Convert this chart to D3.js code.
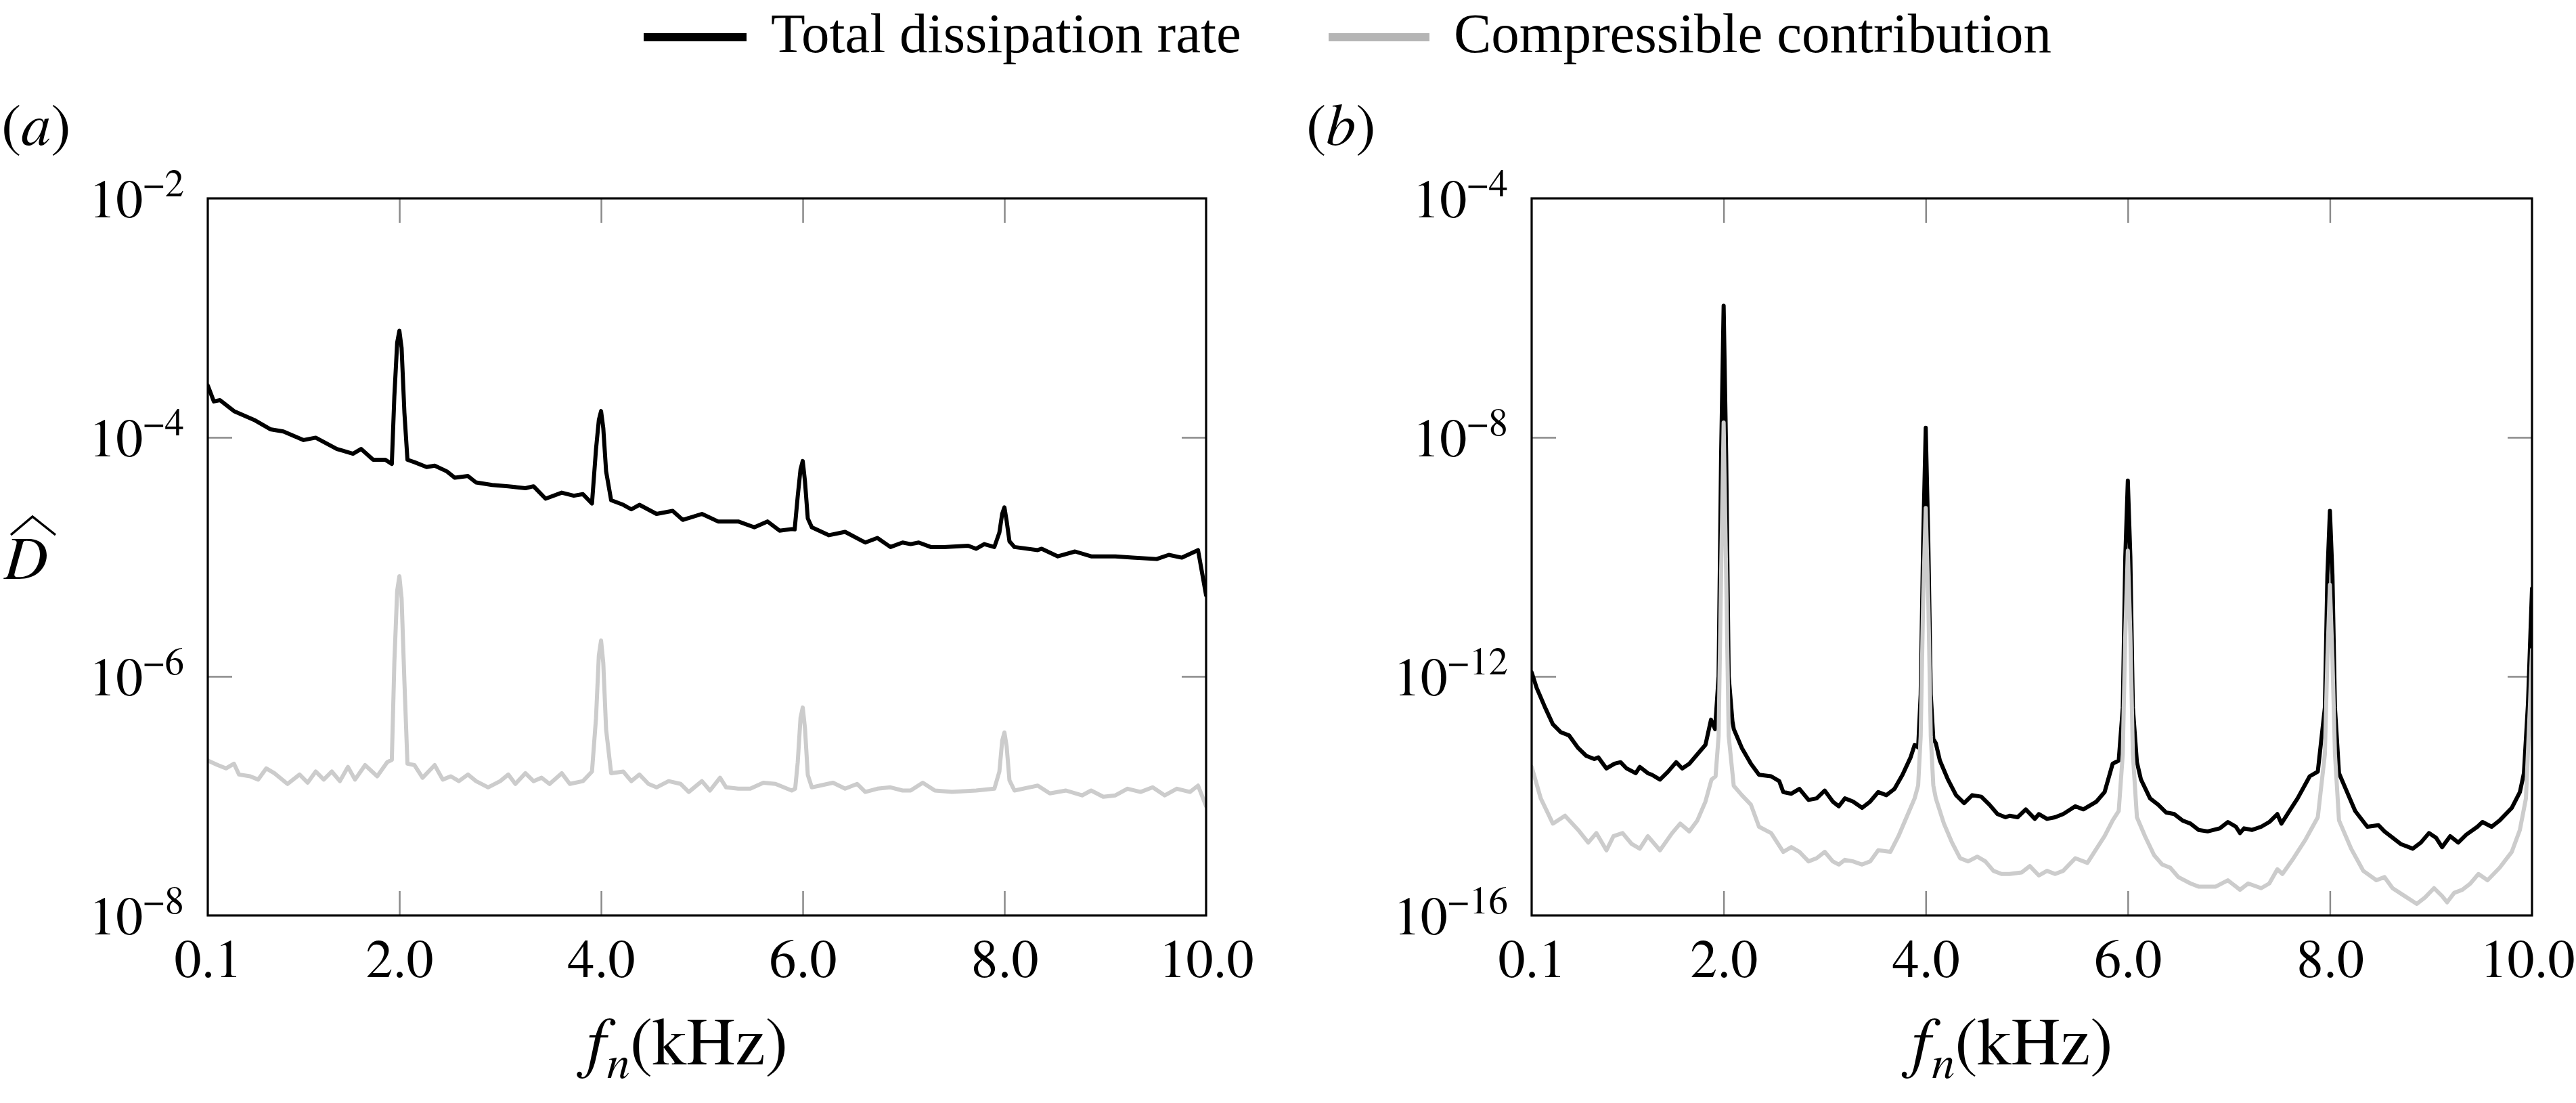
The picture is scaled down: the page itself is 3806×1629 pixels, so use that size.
<!DOCTYPE html>
<html>
<head>
<meta charset="utf-8">
<script src="https://cdn.jsdelivr.net/npm/d3@7"></script>
<style>
  html, body { margin: 0; padding: 0; background: #ffffff; }
  svg { display: block; }
</style>
</head>
<body>
<svg id="chart" width="3806" height="1629"></svg>
<script>
// ---------------- DATA ----------------
const seriesNames = ["Total dissipation rate", "Compressible contribution"];
const seriesColors = ["#000000", "#cccccc"];
const legendColors = ["#000000", "#b5b5b5"];
const panelLabels = ["a", "b"];
const xTickValues = [0.1, 2.0, 4.0, 6.0, 8.0, 10.0];
const xTickLabels = ["0.1", "2.0", "4.0", "6.0", "8.0", "10.0"];
const yTickValuesA = [1e-2, 1e-4, 1e-6, 1e-8];
const yTickExpA = ["\u22122", "\u22124", "\u22126", "\u22128"];
const yTickValuesB = [1e-4, 1e-8, 1e-12, 1e-16];
const yTickExpB = ["\u22124", "\u22128", "\u221212", "\u221216"];

// panel (a): total dissipation rate  [f (kHz), D]
const totalA = [[0.10,2.72e-4],[0.16,2.0e-4],[0.22,2.05e-4],[0.36,1.66e-4],[0.56,1.40e-4],[0.72,1.17e-4],[0.85,1.12e-4],[1.05,9.5e-5],[1.17,9.95e-5],[1.38,8.0e-5],[1.54,7.3e-5],[1.62,8.0e-5],[1.74,6.5e-5],[1.86,6.5e-5],[1.925,6.0e-5],[1.95,2.2e-4],[1.978,6.2e-4],[2.0,7.8e-4],[2.022,5.6e-4],[2.05,1.6e-4],[2.08,6.5e-5],[2.15,6.2e-5],[2.27,5.65e-5],[2.35,5.8e-5],[2.47,5.2e-5],[2.55,4.6e-5],[2.68,4.75e-5],[2.76,4.2e-5],[2.92,4.0e-5],[3.08,3.9e-5],[3.25,3.76e-5],[3.33,3.9e-5],[3.45,3.07e-5],[3.61,3.45e-5],[3.73,3.25e-5],[3.82,3.35e-5],[3.91,2.8e-5],[3.95,8e-5],[3.978,1.4e-4],[4.0,1.66e-4],[4.022,1.2e-4],[4.05,5.2e-5],[4.1,2.98e-5],[4.22,2.73e-5],[4.30,2.5e-5],[4.38,2.73e-5],[4.55,2.29e-5],[4.71,2.43e-5],[4.81,2.04e-5],[5.00,2.29e-5],[5.16,1.98e-5],[5.36,1.98e-5],[5.52,1.77e-5],[5.65,1.98e-5],[5.77,1.66e-5],[5.89,1.71e-5],[5.92,1.7e-5],[5.95,3.2e-5],[5.978,5.4e-5],[6.0,6.35e-5],[6.022,4.3e-5],[6.05,2.1e-5],[6.09,1.77e-5],[6.26,1.52e-5],[6.42,1.62e-5],[6.62,1.32e-5],[6.74,1.44e-5],[6.87,1.21e-5],[6.99,1.32e-5],[7.07,1.28e-5],[7.15,1.32e-5],[7.27,1.21e-5],[7.40,1.21e-5],[7.64,1.24e-5],[7.72,1.17e-5],[7.80,1.28e-5],[7.90,1.21e-5],[7.95,1.6e-5],[7.978,2.3e-5],[8.0,2.6e-5],[8.022,2.0e-5],[8.05,1.35e-5],[8.1,1.21e-5],[8.33,1.14e-5],[8.37,1.17e-5],[8.53,1.01e-5],[8.70,1.11e-5],[8.86,1.01e-5],[9.10,1.01e-5],[9.27,9.86e-6],[9.51,9.6e-6],[9.63,1.04e-5],[9.76,9.86e-6],[9.92,1.14e-5],[10.0,4.77e-6]];

// panel (a): compressible contribution
const compA = [[0.10,1.98e-7],[0.20,1.81e-7],[0.28,1.70e-7],[0.36,1.86e-7],[0.41,1.51e-7],[0.52,1.46e-7],[0.60,1.37e-7],[0.68,1.70e-7],[0.76,1.55e-7],[0.89,1.26e-7],[1.01,1.51e-7],[1.09,1.29e-7],[1.17,1.60e-7],[1.25,1.37e-7],[1.33,1.60e-7],[1.41,1.33e-7],[1.49,1.75e-7],[1.56,1.37e-7],[1.66,1.81e-7],[1.78,1.46e-7],[1.88,1.92e-7],[1.925,2.0e-7],[1.95,1.3e-6],[1.978,5.2e-6],[2.0,6.9e-6],[2.022,4.5e-6],[2.05,9e-7],[2.08,1.86e-7],[2.15,1.81e-7],[2.23,1.42e-7],[2.35,1.81e-7],[2.43,1.37e-7],[2.51,1.46e-7],[2.59,1.33e-7],[2.68,1.51e-7],[2.76,1.33e-7],[2.88,1.18e-7],[3.00,1.33e-7],[3.08,1.51e-7],[3.15,1.26e-7],[3.25,1.55e-7],[3.33,1.33e-7],[3.41,1.42e-7],[3.49,1.26e-7],[3.61,1.55e-7],[3.69,1.26e-7],[3.82,1.33e-7],[3.91,1.60e-7],[3.95,4.5e-7],[3.978,1.5e-6],[4.0,2.0e-6],[4.022,1.3e-6],[4.05,3.6e-7],[4.10,1.55e-7],[4.22,1.60e-7],[4.30,1.33e-7],[4.38,1.51e-7],[4.47,1.26e-7],[4.55,1.18e-7],[4.67,1.33e-7],[4.79,1.26e-7],[4.87,1.08e-7],[5.00,1.33e-7],[5.08,1.11e-7],[5.18,1.42e-7],[5.24,1.18e-7],[5.36,1.15e-7],[5.48,1.15e-7],[5.61,1.29e-7],[5.73,1.26e-7],[5.89,1.11e-7],[5.925,1.15e-7],[5.95,1.9e-7],[5.978,4.5e-7],[6.0,5.5e-7],[6.022,3.7e-7],[6.05,1.5e-7],[6.09,1.18e-7],[6.17,1.22e-7],[6.30,1.29e-7],[6.42,1.15e-7],[6.54,1.26e-7],[6.62,1.08e-7],[6.74,1.15e-7],[6.87,1.18e-7],[6.99,1.11e-7],[7.07,1.11e-7],[7.19,1.29e-7],[7.31,1.11e-7],[7.48,1.08e-7],[7.72,1.11e-7],[7.90,1.15e-7],[7.95,1.6e-7],[7.978,2.9e-7],[8.0,3.4e-7],[8.022,2.6e-7],[8.05,1.35e-7],[8.10,1.11e-7],[8.33,1.22e-7],[8.45,1.05e-7],[8.61,1.11e-7],[8.77,1.01e-7],[8.86,1.11e-7],[8.98,9.84e-8],[9.10,1.01e-7],[9.22,1.15e-7],[9.35,1.08e-7],[9.47,1.18e-7],[9.59,1.01e-7],[9.71,1.15e-7],[9.84,1.08e-7],[9.92,1.22e-7],[10.0,8.2e-8]];

// panel (b): total dissipation rate
const totalB = [[0.10,1.17e-12],[0.15,6.4e-13],[0.23,3.1e-13],[0.31,1.58e-13],[0.39,1.16e-13],[0.47,1.03e-13],[0.56,6.35e-14],[0.64,4.69e-14],[0.72,4.15e-14],[0.76,4.41e-14],[0.84,2.88e-14],[0.92,3.46e-14],[0.98,3.67e-14],[1.04,2.88e-14],[1.13,2.40e-14],[1.17,3.06e-14],[1.25,2.40e-14],[1.29,2.26e-14],[1.37,1.88e-14],[1.45,2.55e-14],[1.53,3.67e-14],[1.59,2.88e-14],[1.66,3.46e-14],[1.74,4.98e-14],[1.82,7.16e-14],[1.875,1.89e-13],[1.915,1.31e-13],[1.95,1e-12],[1.975,5e-9],[2.0,1.6e-6],[2.025,5e-9],[2.05,1e-12],[2.087,1.78e-13],[2.10,1.32e-13],[2.18,6.35e-14],[2.27,3.46e-14],[2.35,2.26e-14],[2.47,2.13e-14],[2.55,1.77e-14],[2.59,1.16e-14],[2.67,1.09e-14],[2.75,1.31e-14],[2.84,8.57e-15],[2.92,9.1e-15],[3.00,1.23e-14],[3.08,8.05e-15],[3.14,6.71e-15],[3.20,9.1e-15],[3.28,8.05e-15],[3.37,6.32e-15],[3.45,8.05e-15],[3.53,1.16e-14],[3.61,1.03e-14],[3.69,1.31e-14],[3.77,2.26e-14],[3.85,4.41e-14],[3.89,7.16e-14],[3.925,6.5e-14],[3.95,5e-13],[3.975,2e-10],[4.0,1.45e-8],[4.025,2e-10],[4.05,5e-13],[4.075,9e-14],[4.10,7.6e-14],[4.14,3.91e-14],[4.22,1.88e-14],[4.30,1.03e-14],[4.38,7.59e-15],[4.46,1.03e-14],[4.55,9.7e-15],[4.63,7.14e-15],[4.71,4.97e-15],[4.79,4.4e-15],[4.83,4.67e-15],[4.91,4.4e-15],[4.99,5.96e-15],[5.08,4.13e-15],[5.12,4.97e-15],[5.20,4.13e-15],[5.28,4.4e-15],[5.36,4.97e-15],[5.48,6.71e-15],[5.56,5.96e-15],[5.69,8.05e-15],[5.77,1.16e-14],[5.85,3.46e-14],[5.91,3.91e-14],[5.95,3e-13],[5.975,1e-10],[6.0,1.89e-9],[6.025,1e-10],[6.05,3e-13],[6.09,3.67e-14],[6.13,1.88e-14],[6.22,9.1e-15],[6.30,7.14e-15],[6.38,5.27e-15],[6.46,4.97e-15],[6.54,3.89e-15],[6.62,3.44e-15],[6.70,2.7e-15],[6.79,2.55e-15],[6.91,2.87e-15],[6.99,3.66e-15],[7.07,3.05e-15],[7.11,2.39e-15],[7.15,2.87e-15],[7.23,2.7e-15],[7.32,3.05e-15],[7.40,3.66e-15],[7.48,4.97e-15],[7.52,3.44e-15],[7.60,5.6e-15],[7.68,9.1e-15],[7.80,2.13e-14],[7.88,2.55e-14],[7.95,3e-13],[7.975,5e-11],[8.0,5.9e-10],[8.025,5e-11],[8.05,3e-13],[8.09,2.40e-14],[8.17,1.16e-14],[8.25,5.6e-15],[8.37,3.05e-15],[8.48,3.24e-15],[8.54,2.55e-15],[8.62,2.0e-15],[8.70,1.57e-15],[8.82,1.31e-15],[8.90,1.66e-15],[8.98,2.39e-15],[9.05,2.0e-15],[9.11,1.39e-15],[9.19,2.12e-15],[9.27,1.66e-15],[9.35,2.25e-15],[9.46,3.05e-15],[9.51,3.66e-15],[9.60,3.05e-15],[9.68,3.89e-15],[9.80,6.32e-15],[9.88,1.16e-14],[9.92,2.40e-14],[9.96,3.47e-13],[10.0,2.95e-11]];

// panel (b): compressible contribution
const compB = [[0.10,3.06e-14],[0.19,9.1e-15],[0.31,3.44e-15],[0.43,4.67e-15],[0.56,2.7e-15],[0.66,1.66e-15],[0.74,2.39e-15],[0.84,1.23e-15],[0.91,2.12e-15],[1.00,2.39e-15],[1.09,1.57e-15],[1.17,1.31e-15],[1.25,2.12e-15],[1.37,1.23e-15],[1.49,2.39e-15],[1.57,3.44e-15],[1.66,2.55e-15],[1.74,3.89e-15],[1.82,8.05e-15],[1.88,1.88e-14],[1.92,2.13e-14],[1.95,1e-13],[1.975,5e-11],[2.0,1.77e-8],[2.025,5e-11],[2.05,1e-13],[2.10,1.48e-14],[2.18,1.03e-14],[2.27,7.14e-15],[2.35,3.05e-15],[2.47,2.39e-15],[2.59,1.16e-15],[2.67,1.39e-15],[2.75,1.16e-15],[2.84,8.03e-16],[2.92,9.07e-16],[3.00,1.16e-15],[3.08,8.03e-16],[3.14,7.11e-16],[3.20,8.53e-16],[3.28,8.03e-16],[3.37,7.11e-16],[3.45,8.03e-16],[3.53,1.23e-15],[3.65,1.16e-15],[3.73,2.12e-15],[3.81,4.4e-15],[3.89,9.1e-15],[3.925,1.5e-14],[3.95,1e-13],[3.975,2e-11],[4.0,6.6e-10],[4.025,2e-11],[4.05,1e-13],[4.075,1.5e-14],[4.10,9.1e-15],[4.18,3.44e-15],[4.26,1.66e-15],[4.34,9.07e-16],[4.42,8.03e-16],[4.51,9.64e-16],[4.59,8.03e-16],[4.67,5.58e-16],[4.75,4.94e-16],[4.83,4.94e-16],[4.95,5.25e-16],[5.03,6.7e-16],[5.12,4.66e-16],[5.20,5.58e-16],[5.28,4.94e-16],[5.36,5.58e-16],[5.48,9.07e-16],[5.60,7.57e-16],[5.69,1.31e-15],[5.77,2.12e-15],[5.85,3.89e-15],[5.91,5.6e-15],[5.95,5e-14],[5.975,5e-12],[6.0,1.27e-10],[6.025,5e-12],[6.05,5e-14],[6.09,4.4e-15],[6.17,2.12e-15],[6.26,1.02e-15],[6.34,7.11e-16],[6.42,6.3e-16],[6.50,4.38e-16],[6.62,3.43e-16],[6.70,3.04e-16],[6.87,3.04e-16],[6.99,3.88e-16],[7.11,2.69e-16],[7.19,3.43e-16],[7.32,2.86e-16],[7.40,3.43e-16],[7.48,5.93e-16],[7.53,4.94e-16],[7.64,9.07e-16],[7.76,1.88e-15],[7.88,4.4e-15],[7.95,5e-14],[7.975,2e-12],[8.0,3.4e-11],[8.025,2e-12],[8.05,5e-14],[8.09,3.89e-15],[8.21,1.31e-15],[8.33,5.58e-16],[8.46,3.88e-16],[8.54,4.38e-16],[8.62,2.86e-16],[8.74,2.11e-16],[8.86,1.56e-16],[8.94,1.99e-16],[9.03,2.86e-16],[9.11,2.11e-16],[9.16,1.66e-16],[9.23,2.39e-16],[9.31,2.69e-16],[9.39,3.43e-16],[9.47,4.94e-16],[9.56,3.88e-16],[9.68,6.3e-16],[9.80,1.16e-15],[9.88,2.7e-15],[9.94,9.1e-15],[9.98,3.47e-13],[10.0,2.8e-12]];

// ---------------- LAYOUT ----------------
const FONT = '"TeX Gyre Termes", "Liberation Serif", "Times New Roman", serif';
const FONT_LEG = '"Liberation Serif", "TeX Gyre Termes", "Times New Roman", serif';
const svg = d3.select("#chart").attr("font-family", FONT);
const FS_TICK = 80, FS_SUP = 57, FS_LEG = 83, FS_TITLE = 100, FS_TITLE_SUB = 68;

const panels = [
  { left: 307, right: 1782, top: 293, bottom: 1352, yDomain: [1e-8, 1e-2],
    yTicks: yTickValuesA, yExp: yTickExpA, series: [totalA, compA], label: panelLabels[0], labelX: 2, showYTitle: true },
  { left: 2263, right: 3741, top: 293, bottom: 1352, yDomain: [1e-16, 1e-4],
    yTicks: yTickValuesB, yExp: yTickExpB, series: [totalB, compB], label: panelLabels[1], labelX: 1930, showYTitle: false }
];

const defs = svg.append("defs");

panels.forEach((p, pi) => {
  const x = d3.scaleLinear().domain([0.1, 10]).range([p.left, p.right]);
  const y = d3.scaleLog().domain(p.yDomain).range([p.bottom, p.top]);
  const g = svg.append("g");

  defs.append("clipPath").attr("id", "clip" + pi)
    .append("rect").attr("x", p.left).attr("y", p.top)
    .attr("width", p.right - p.left).attr("height", p.bottom - p.top);

  // inner ticks (gray)
  const innerX = xTickValues.slice(1, -1);
  const innerY = p.yTicks.slice(1, -1);
  const tickStyle = sel => {
    sel.select(".domain").remove();
    sel.selectAll(".tick line").attr("stroke", "#8a8a8a").attr("stroke-width", 2.5);
    sel.selectAll(".tick text").remove();
  };
  g.append("g").attr("transform", `translate(0,${p.bottom})`)
    .call(d3.axisBottom(x).tickValues(innerX).tickSize(-36)).call(tickStyle);
  g.append("g").attr("transform", `translate(0,${p.top})`)
    .call(d3.axisTop(x).tickValues(innerX).tickSize(-36)).call(tickStyle);
  g.append("g").attr("transform", `translate(${p.left},0)`)
    .call(d3.axisLeft(y).tickValues(innerY).tickSize(-36)).call(tickStyle);
  g.append("g").attr("transform", `translate(${p.right},0)`)
    .call(d3.axisRight(y).tickValues(innerY).tickSize(-36)).call(tickStyle);

  // data lines
  const line = d3.line().x(d => x(d[0])).y(d => y(d[1])).curve(d3.curveLinear);
  const lg = g.append("g").attr("clip-path", `url(#clip${pi})`);
  p.series.forEach((s, si) => {
    lg.append("path").datum(s)
      .attr("d", line)
      .attr("fill", "none")
      .attr("stroke", seriesColors[si])
      .attr("stroke-width", 6)
      .attr("stroke-linejoin", "round")
      .attr("stroke-linecap", "round");
  });

  // frame
  g.append("rect").attr("x", p.left).attr("y", p.top)
    .attr("width", p.right - p.left).attr("height", p.bottom - p.top)
    .attr("fill", "none").attr("stroke", "#000").attr("stroke-width", 3.2);

  // x tick labels
  g.append("g").attr("transform", `translate(0,${p.bottom})`)
    .call(d3.axisBottom(x).tickValues(xTickValues).tickSize(0).tickPadding(0)
      .tickFormat((d, i) => xTickLabels[i]))
    .call(sel => {
      sel.select(".domain").remove();
      sel.attr("font-family", FONT).attr("font-size", FS_TICK);
      sel.selectAll(".tick text")
        .attr("y", 91).attr("dy", null)
        .attr("font-size", FS_TICK)
        .attr("font-family", FONT)
        .attr("fill", "#000");
      if (pi === 1) {
        sel.selectAll(".tick text").filter(d => d === 10.0)
          .attr("text-anchor", "end").attr("x", 3804 - p.right);
      }
    });

  // y tick labels (10^k)
  p.yTicks.forEach((v, i) => {
    const t = g.append("text")
      .attr("x", p.left - 35)
      .attr("y", y(v) + 28)
      .attr("text-anchor", "end")
      .attr("font-family", FONT)
      .attr("font-size", FS_TICK);
    t.append("tspan").text("10");
    t.append("tspan").attr("font-size", FS_SUP).attr("dy", -31).text(p.yExp[i]);
  });

  // x axis title
  const cx = (p.left + p.right) / 2 - 29;
  const xt = g.append("text").attr("x", cx).attr("y", 1572)
    .attr("text-anchor", "middle").attr("font-family", FONT).attr("font-size", FS_TITLE);
  xt.append("tspan").attr("font-style", "italic").text("f");
  xt.append("tspan").attr("font-style", "italic").attr("font-size", FS_TITLE_SUB).attr("dy", 20).attr("dx", 2).text("n");
  xt.append("tspan").attr("dy", -20).text("(kHz)");

  // panel label
  const pl = g.append("text").attr("x", p.labelX).attr("y", 214)
    .attr("font-family", FONT).attr("font-size", 88);
  pl.append("tspan").text("(");
  pl.append("tspan").attr("font-style", "italic").text(p.label);
  pl.append("tspan").text(")");

  // y axis title  D-hat
  if (p.showYTitle) {
    g.append("text").attr("x", 6).attr("y", 855)
      .attr("font-family", FONT).attr("font-size", FS_TITLE - 10).attr("font-style", "italic").text("D");
    g.append("path")
      .attr("d", "M16,790 L48,763 L82,790")
      .attr("fill", "none").attr("stroke", "#000").attr("stroke-width", 3.5);
  }
});

// ---------------- LEGEND ----------------
const legend = svg.append("g");
const legendItems = [
  { x1: 951, x2: 1103, tx: 1139 },
  { x1: 1963, x2: 2112, tx: 2148 }
];
legendItems.forEach((it, i) => {
  legend.append("line").attr("x1", it.x1).attr("x2", it.x2).attr("y1", 55).attr("y2", 55)
    .attr("stroke", legendColors[i]).attr("stroke-width", 12);
  legend.append("text").attr("x", it.tx).attr("y", 77)
    .attr("font-family", FONT_LEG).attr("font-size", FS_LEG).text(seriesNames[i]);
});
</script>
</body>
</html>
